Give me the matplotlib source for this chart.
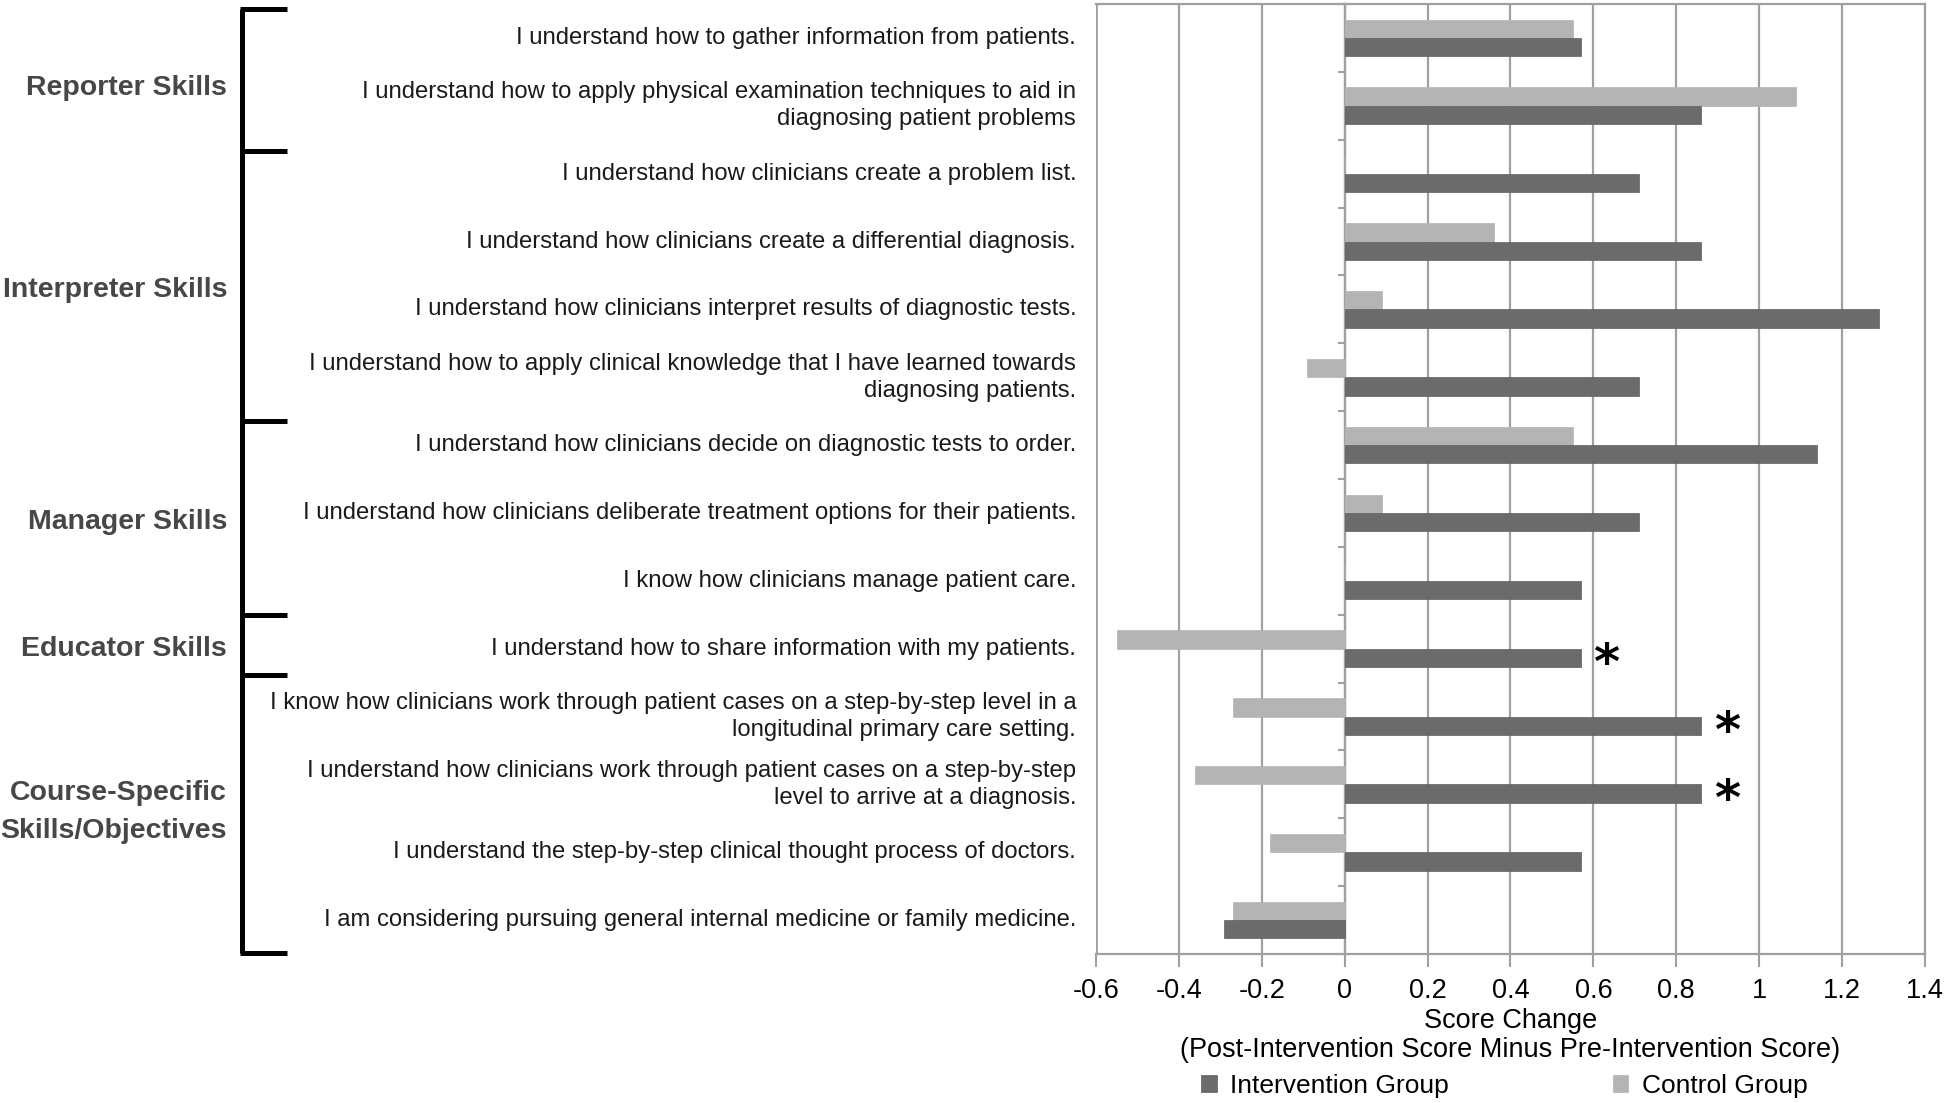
import numpy as np
import matplotlib
matplotlib.use("Agg")
import matplotlib.pyplot as plt
import matplotlib.transforms as mtransforms

# ===============================
# DATA
# ===============================
items = [
    "I understand how to gather information from patients.",
    "I understand how to apply physical examination techniques to aid in\ndiagnosing patient problems",
    "I understand how clinicians create a problem list.",
    "I understand how clinicians create a differential diagnosis.",
    "I understand how clinicians interpret results of diagnostic tests.",
    "I understand how to apply clinical knowledge that I have learned towards\ndiagnosing patients.",
    "I understand how clinicians decide on diagnostic tests to order.",
    "I understand how clinicians deliberate treatment options for their patients.",
    "I know how clinicians manage patient care.",
    "I understand how to share information with my patients.",
    "I know how clinicians work through patient cases on a step-by-step level in a\nlongitudinal primary care setting.",
    "I understand how clinicians work through patient cases on a step-by-step\nlevel to arrive at a diagnosis.",
    "I understand the step-by-step clinical thought process of doctors.",
    "I am considering pursuing general internal medicine or family medicine.",
]
intervention = [0.57, 0.86, 0.71, 0.86, 1.29, 0.71, 1.14, 0.71, 0.57, 0.57, 0.86, 0.86, 0.57, -0.29]
control = [0.55, 1.09, 0.0, 0.36, 0.09, -0.09, 0.55, 0.09, 0.0, -0.55, -0.27, -0.36, -0.18, -0.27]
significant = [False] * 9 + [True, True, True] + [False, False]

groups = ["Reporter Skills", "Interpreter Skills", "Manager Skills",
          "Educator Skills", "Course-Specific\nSkills/Objectives"]

xticks = [-0.6, -0.4, -0.2, 0, 0.2, 0.4, 0.6, 0.8, 1, 1.2, 1.4]
xtick_labels = ["-0.6", "-0.4", "-0.2", "0", "0.2", "0.4", "0.6", "0.8", "1", "1.2", "1.4"]

# hand-placed bracket layout (in category units, as in the original figure)
bracket_y = [-0.43, 1.66, 5.64, 8.51, 9.39, 13.49]
group_label_y = [0.74, 3.72, 7.14, 9.0, 11.4]

# ===============================
# STYLE
# ===============================
font = ["Liberation Sans", "DejaVu Sans"]
dark = "#6b6b6b"
light = "#b4b4b4"
grid_c = "#a0a0a0"

fig = plt.figure(figsize=(19.46, 11.03), dpi=100)
ax = fig.add_axes([0.5632, 0.135, 0.426, 0.8614])

y = np.arange(len(items))
h = 0.27
ax.barh(y - h / 2, control, height=h, color=light, edgecolor=light, lw=0.5,
        label="Control Group", zorder=3)
ax.barh(y + h / 2, intervention, height=h, color=dark, edgecolor="#5e5e5e", lw=0.5,
        label="Intervention Group", zorder=3)

ax.set_xlim(-0.6, 1.4)
ax.set_ylim(len(items) - 0.5, -0.5)

# vertical grid and frame
ax.set_xticks(xticks)
ax.set_xticklabels(xtick_labels, fontfamily=font, fontsize=19.5)
ax.grid(axis="x", color=grid_c, lw=1.6, zorder=0)
ax.tick_params(axis="x", length=9, width=1.5, color=grid_c, pad=8)

# y axis sits at x=0 with ticks between categories
ax.spines["left"].set_position(("data", 0))
for s in ["left", "right", "top", "bottom"]:
    ax.spines[s].set_color(grid_c)
    ax.spines[s].set_linewidth(1.6)
ax.axvline(-0.6, color=grid_c, lw=2, zorder=1)
ax.set_yticks(np.arange(len(items) + 1) - 0.5)
ax.set_yticklabels([])
ax.tick_params(axis="y", length=5, width=1.5, color=grid_c, direction="out")

# significance markers
for i, sig in enumerate(significant):
    if sig:
        ax.annotate("*", xy=(intervention[i], y[i] + h / 2), xytext=(9, -5),
                    textcoords="offset points", ha="left", va="center",
                    fontsize=36, fontweight="bold", color="black")

# item labels
trans = mtransforms.blended_transform_factory(fig.transFigure, ax.transData)
for i, lab in enumerate(items):
    fig.text(0.553, y[i], lab, transform=trans, ha="right", va="center",
             fontsize=17.2, fontfamily=font, color="#1a1a1a", linespacing=1.3)

# group brackets and labels
fig.add_artist(plt.Line2D([0.1244, 0.1244], [bracket_y[0], bracket_y[-1]], transform=trans,
                          color="black", lw=3.6, solid_capstyle="butt"))
for yy in bracket_y:
    fig.add_artist(plt.Line2D([0.1235, 0.1473], [yy, yy], transform=trans,
                              color="black", lw=3.6, solid_capstyle="butt"))
for g, gy in zip(groups, group_label_y):
    fig.text(0.1167, gy, g, transform=trans, ha="right", va="center",
             fontsize=20.5, fontweight="bold", fontfamily=font,
             color="#474747", linespacing=1.6)

# axis title
ax.set_xlabel("Score Change\n(Post-Intervention Score Minus Pre-Intervention Score)",
              fontsize=19.5, fontfamily=font, labelpad=3, linespacing=1.15)

handles, labels = ax.get_legend_handles_labels()
fig.legend(handles[::-1], labels[::-1], loc="center", bbox_to_anchor=(0.773, 0.0155),
           ncol=2, frameon=False, prop={"family": font, "size": 19},
           handlelength=0.6, handleheight=0.6, handletextpad=0.5, columnspacing=6.2)

fig.savefig("out.png", dpi=100, facecolor="white")
